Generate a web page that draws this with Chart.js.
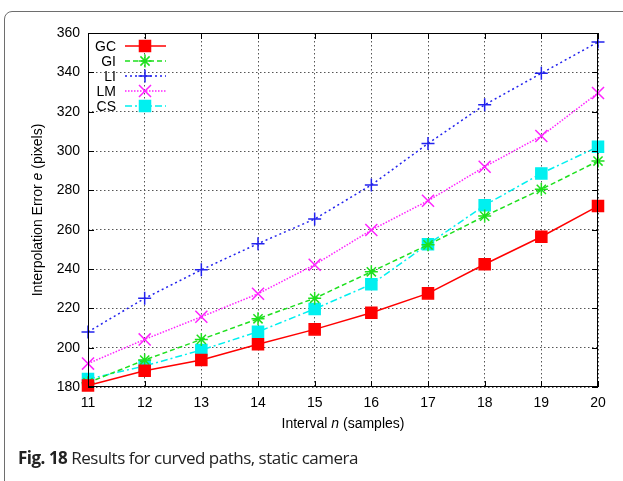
<!DOCTYPE html>
<html>
<head>
<meta charset="utf-8">
<script src="https://cdn.jsdelivr.net/npm/chart.js@4"></script>
<style>
  body { margin: 0; background: #fff; }
  #wrap { position: relative; width: 623px; height: 481px; overflow: hidden; background: #fff; }
  #frame { position: absolute; left: 4px; top: 11px; width: 700px; height: 600px;
    border: 1.5px solid #6e6e6e; border-radius: 8px; }
  #chart { position: absolute; left: 0; top: 0; }
  #caption { position: absolute; left: 18px; top: 446px; font-family: "Open Sans", sans-serif;
    font-size: 17px; letter-spacing: -0.5px; color: #222; white-space: nowrap; }
  #caption b { font-weight: 700; }
</style>
</head>
<body>
<div id="wrap">
  <div id="frame"></div>
  <canvas id="chart" width="623" height="481"></canvas>
  <div id="caption"><b>Fig. 18</b> Results for curved paths, static camera</div>
</div>
<script>
const intervals = [11, 12, 13, 14, 15, 16, 17, 18, 19, 20];
const gcValues = [180.8, 188.3, 193.7, 201.7, 209.3, 217.8, 227.6, 242.4, 256.4, 272.0];
const giValues = [182.2, 193.7, 204.2, 214.7, 225.1, 238.6, 252.3, 266.9, 280.5, 294.9];
const liValues = [208.0, 225.1, 239.6, 252.9, 265.4, 282.7, 303.8, 323.5, 339.5, 355.4];
const lmValues = [191.9, 204.2, 215.7, 227.4, 242.2, 259.8, 274.7, 292.0, 307.6, 329.5];
const csValues = [184.0, 190.7, 198.8, 208.1, 219.7, 232.2, 252.6, 272.4, 288.6, 302.2];
const seriesNames = ["GC", "GI", "LI", "LM", "CS"];
const yMin = 180, yMax = 360, yStep = 20;

const FONT = "'Liberation Sans', Arial, sans-serif";

function pts(values) {
  return intervals.map((x, i) => ({ x: x, y: values[i] }));
}

function makeSet(name, values, color, style, radius, dash) {
  return {
    label: name,
    data: pts(values),
    borderColor: color,
    backgroundColor: color,
    borderWidth: 1.5,
    borderDash: dash,
    pointStyle: style,
    pointRadius: radius,
    pointHoverRadius: radius,
    pointBackgroundColor: color,
    pointBorderColor: color,
    pointBorderWidth: 1.5,
    tension: 0,
    fill: false,
    clip: false,
  };
}

// gnuplot-like frame, inner ticks, axis titles and key
const decorPlugin = {
  id: "decor",
  afterDatasetsDraw(chart) {
    const ctx = chart.ctx;
    const a = chart.chartArea;
    const xs = chart.scales.x, ys = chart.scales.y;
    ctx.save();
    ctx.strokeStyle = "#000";
    ctx.lineWidth = 1;
    ctx.setLineDash([]);
    ctx.strokeRect(a.left + 0.5, a.top + 0.5, a.right - a.left - 1, a.bottom - a.top - 1);
    ctx.beginPath();
    xs.ticks.forEach(t => {
      const px = Math.round(xs.getPixelForValue(t.value)) + 0.5;
      ctx.moveTo(px, a.bottom); ctx.lineTo(px, a.bottom - 6);
      ctx.moveTo(px, a.top); ctx.lineTo(px, a.top + 6);
    });
    ys.ticks.forEach(t => {
      const py = Math.round(ys.getPixelForValue(t.value)) + 0.5;
      ctx.moveTo(a.left, py); ctx.lineTo(a.left + 6, py);
      ctx.moveTo(a.right, py); ctx.lineTo(a.right - 6, py);
    });
    ctx.stroke();

    // key
    const rowY = [46, 61, 76, 91, 106];
    ctx.font = "14px " + FONT;
    ctx.textAlign = "right";
    ctx.textBaseline = "middle";
    chart.data.datasets.forEach((ds, i) => {
      const y = rowY[i];
      ctx.fillStyle = "#000";
      ctx.fillText(ds.label, 116, y + 1);
      ctx.strokeStyle = ds.borderColor;
      ctx.lineWidth = 1.5;
      ctx.setLineDash(ds.borderDash || []);
      ctx.beginPath();
      ctx.moveTo(125, y); ctx.lineTo(166, y);
      ctx.stroke();
      ctx.setLineDash([]);
      ctx.fillStyle = ds.pointBackgroundColor;
      ctx.strokeStyle = ds.pointBorderColor;
      ctx.lineWidth = ds.pointBorderWidth;
      Chart.helpers.drawPoint(ctx, { pointStyle: ds.pointStyle, radius: ds.pointRadius, rotation: 0, borderWidth: ds.pointBorderWidth }, 145, y);
    });

    // axis titles with italic symbols
    function mixed(parts, cx, cy) {
      let w = 0;
      parts.forEach(p => { ctx.font = p[1] + "14px " + FONT; w += ctx.measureText(p[0]).width; });
      let x = cx - w / 2;
      ctx.textAlign = "left";
      ctx.textBaseline = "middle";
      ctx.fillStyle = "#000";
      parts.forEach(p => {
        ctx.font = p[1] + "14px " + FONT;
        ctx.fillText(p[0], x, cy);
        x += ctx.measureText(p[0]).width;
      });
    }
    mixed([["Interval ", ""], ["n", "italic "], [" (samples)", ""]], (a.left + a.right) / 2, 424);
    ctx.translate(38, (a.top + a.bottom) / 2);
    ctx.rotate(-Math.PI / 2);
    mixed([["Interpolation Error ", ""], ["e", "italic "], [" (pixels)", ""]], 0, 0);
    ctx.restore();
  },
};

new Chart(document.getElementById("chart"), {
  type: "line",
  data: {
    datasets: [
      makeSet(seriesNames[0], gcValues, "#ff0000", "rect", 7.8, []),
      makeSet(seriesNames[1], giValues, "#1ee01e", "star", 6.5, [5, 3]),
      makeSet(seriesNames[2], liValues, "#2222ee", "cross", 6.5, [2, 3]),
      makeSet(seriesNames[3], lmValues, "#ff22ff", "crossRot", 8.5, [1.5, 1.5]),
      makeSet(seriesNames[4], csValues, "#00f0f0", "rect", 7.8, [7, 3, 2, 3]),
    ],
  },
  options: {
    responsive: false,
    animation: false,
    layout: { padding: { top: 33, right: 25, left: 0, bottom: 0 } },
    plugins: {
      legend: { display: false },
      tooltip: { enabled: false },
    },
    scales: {
      x: {
        type: "linear",
        min: intervals[0],
        max: intervals[intervals.length - 1],
        afterFit: (s) => { s.height = 94; },
        ticks: { stepSize: 1, padding: 8, color: "#000", font: { family: FONT, size: 14 } },
        grid: { color: "#555", drawTicks: false },
        border: { display: false, dash: [1.5, 2.5] },
      },
      y: {
        min: yMin,
        max: yMax,
        afterFit: (s) => { s.width = 88; },
        ticks: { stepSize: yStep, padding: 8, color: "#000", font: { family: FONT, size: 14 } },
        grid: { color: "#555", drawTicks: false },
        border: { display: false, dash: [1.5, 2.5] },
      },
    },
  },
  plugins: [decorPlugin],
});
</script>
</body>
</html>
